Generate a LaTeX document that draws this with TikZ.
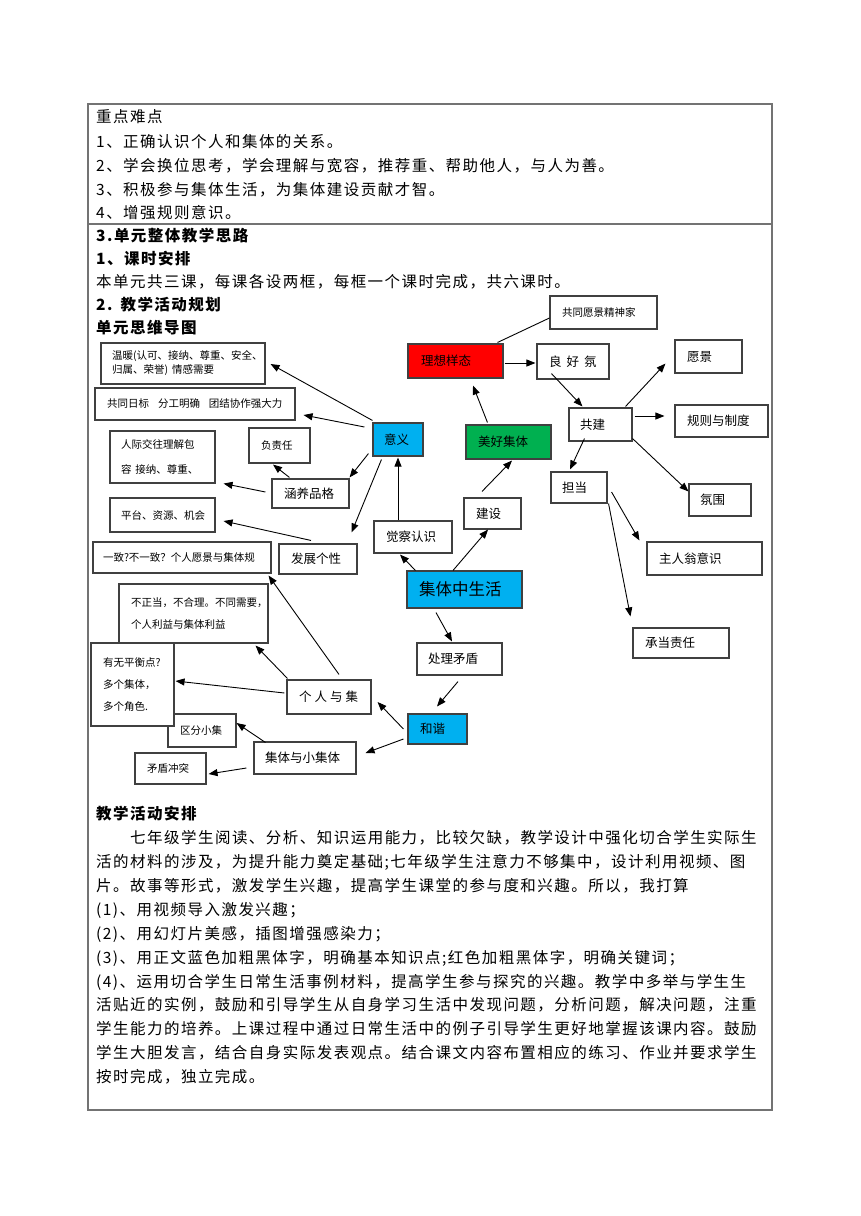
\documentclass[tikz,border=0pt]{standalone}
\usepackage{fontspec}
\setmainfont{Noto Sans CJK SC}
\newfontfamily\cjk{Noto Sans CJK SC}
\newfontfamily\cjkbody[LetterSpace=9.5]{Noto Sans CJK SC}
\usetikzlibrary{arrows.meta,calc}
\definecolor{cred}{RGB}{255,0,0}
\definecolor{cgreen}{RGB}{0,176,80}
\definecolor{cblue}{RGB}{0,176,240}
\newcommand\fsS{\fontsize{10.5}{14}\cjk}
\newcommand\fsM{\fontsize{12.5}{15}\cjk}
\newcommand\fsL{\fontsize{16.5}{20}\cjk}
\newcommand\bodyf{\fontsize{15.5}{18}\cjkbody}
\newcommand{\Bx}[8]{%
  \pgfmathsetmacro\bxw{#5-#3}\pgfmathsetmacro\bxh{#6-#4}%
  \pgfmathsetmacro\bxtw{#5-#3-2*#7}%
  \pgfmathsetmacro\bxcx{(#3+#5)/2}\pgfmathsetmacro\bxcy{(#4+#6)/2}%
  \node[bx,#1,minimum width=\bxw pt,minimum height=\bxh pt,inner xsep=#7pt,text width=\bxtw pt] (#2) at (\bxcx,\bxcy) {#8};}
\begin{document}
\begin{tikzpicture}[x=1pt,y=-1pt,
  bx/.style={draw=black!75,line width=1.1pt,fill=white,align=left,inner ysep=1pt,font=\fsM},
  sm/.style={font=\fsS},
  arr/.style={-{Triangle[length=9pt,width=7pt]},line width=0.9pt},
  ln/.style={line width=0.9pt},
  txt/.style={anchor=west,inner sep=0pt,font=\bodyf},
  hd/.style={anchor=west,inner sep=0pt,font=\bodyf\bfseries},
  tbl/.style={draw=black!55,line width=1.2pt}]
\useasboundingbox (0,0) rectangle (860,1216);
\fill[white] (0,0) rectangle (860,1216);
\draw[tbl] (88,104) rectangle (772,1110);
\draw[tbl] (88,224) -- (772,224);

% top text
\node[txt] (t1) at (96,117) {重点难点};
\node[txt] (t2) at (96,142) {1、正确认识个人和集体的关系。};
\node[txt] (t3) at (96,166) {2、学会换位思考，学会理解与宽容，推荐重、帮助他人，与人为善。};
\node[txt] (t4) at (96,190) {3、积极参与集体生活，为集体建设贡献才智。};
\node[txt] (t5) at (96,213) {4、增强规则意识。};
\node[hd] (h1) at (96,236) {3.单元整体教学思路};
\node[hd] (h2) at (96,259) {1、课时安排};
\node[txt] (t6) at (96,282) {本单元共三课，每课各设两框，每框一个课时完成，共六课时。};
\node[hd] (h3) at (96,305) {2.\kern8pt 教学活动规划};
\node[hd] (h4) at (96,328) {单元思维导图};

% mind map boxes
\Bx{sm}{gtyj}{550}{296}{657}{329}{12}{共同愿景精神家}
\Bx{fill=cred}{lxyt}{408}{344}{503}{378}{13}{理想样态}
\Bx{}{lhf}{537}{344}{609}{379}{12}{良\kern5pt 好\kern5pt 氛}
\Bx{}{yj}{675}{340}{742}{373}{12}{愿景}
\Bx{}{gj}{569}{408}{632}{441}{11}{共建}
\Bx{}{gzzd}{675}{405}{768}{437}{12}{规则与制度}
\Bx{fill=cgreen}{mhjt}{466}{425}{551}{459}{12}{美好集体}
\Bx{fill=cblue}{yy}{373}{423}{423}{456}{11}{意义}
\Bx{}{dd}{551}{472}{607}{503}{11}{担当}
\Bx{}{fw}{689}{484}{751}{516}{11}{氛围}
\Bx{}{zrwy}{647}{542}{762}{575}{12}{主人翁意识}
\Bx{}{cdzr}{633}{628}{729}{658}{12}{承当责任}
\Bx{fill=cblue,font=\fsL}{jtzsh}{407}{571}{522}{608}{12}{集体中生活}
\Bx{}{js}{464}{498}{521}{529}{12}{建设}
\Bx{}{jcrs}{374}{521}{452}{553}{12}{觉察认识}
\Bx{}{clmd}{417}{643}{502}{675}{11}{处理矛盾}
\Bx{fill=cblue}{hx}{408}{714}{467}{744}{12}{和谐}
\Bx{sm}{fzr}{249}{428}{310}{463}{12}{负责任}
\Bx{}{hypg}{272}{479}{349}{508}{12}{涵养品格}
\Bx{}{fzgx}{279}{544}{357}{574}{12}{发展个性}
\Bx{sm}{wn}{101}{343}{265}{384}{11}{温暖(认可、接纳、尊重、安全、\\归属、荣誉)\kern4pt 情感需要}
\Bx{sm}{gtrb}{95}{388}{295}{420}{12}{共同日标\kern9pt 分工明确\kern9pt 团结协作强大力}
\Bx{font=\fontsize{10.5}{25}\cjk}{rjjw}{110}{431}{215}{483}{11}{人际交往理解包\\容\kern4pt 接纳、尊重、}
\Bx{sm}{pt}{110}{498}{215}{532}{11}{平台、资源、机会}
\Bx{sm}{yz}{93}{542}{271}{573}{10}{一致?不一致？个人愿景与集体规}
\Bx{}{grjj}{287}{680}{371}{714}{12}{个\kern3pt 人\kern3pt 与\kern3pt 集}
\Bx{sm}{qfxj}{168}{714}{236}{747}{12}{区分小集}
\Bx{font=\fontsize{10.5}{22}\cjk}{bzd}{119}{584}{268}{643}{12}{不正当，不合理。不同需要，\\个人利益与集体利益}
\Bx{font=\fontsize{10.5}{22}\cjk}{ywph}{91}{643}{174}{726}{12}{有无平衡点?\\多个集体，\\多个角色.}
\Bx{}{jtyxjt}{254}{742}{356}{774}{11}{集体与小集体}
\Bx{sm}{mdct}{135}{753}{206}{784}{12}{矛盾冲突}

% connectors
\draw[ln] ($(lxyt.north east)+(-6,-1)$) -- ($(gtyj.west)+(0,5.5)$);
\draw[arr] ($(lxyt.east)+(1,2)$) -- ($(lhf.west)+(-1,1.5)$);
\draw[arr] ($(lhf.south west)+(15,-6)$) -- ($(gj.north west)+(14,-1)$);
\draw[arr] ($(gj.north east)+(-7,-1)$) -- ($(yj.south west)+(-9,-10)$);
\draw[arr] ($(gj.east)+(2,-8.5)$) -- ($(gzzd.west)+(-10,-5)$);
\draw[arr] ($(gj.south east)+(0,-3)$) -- ($(fw.north west)+(0,8)$);
\draw[arr] ($(gj.south west)+(16,-3)$) -- ($(dd.north)+(-9,-2)$);
\draw[arr] ($(mhjt.north west)+(22,-2)$) -- ($(lxyt.south)+(17.5,7)$);
\draw[arr] ($(dd.east)+(4,4.5)$) -- ($(zrwy.north west)+(-7,-1)$);
\draw[arr] ($(dd.south east)+(1,0)$) -- ($(cdzr.north west)+(-2,-11)$);
\draw[arr] ($(jtzsh.north)+(-11.5,0)$) -- ($(js.south)+(-4.5,0)$);
\draw[arr] ($(js.north)+(-10.5,-6)$) -- ($(mhjt.south)+(3.5,1)$);
\draw[arr] ($(jtzsh.north west)+(9,0)$) -- ($(jcrs.south)+(-13,1)$);
\draw[arr] ($(jtzsh.south)+(-28.5,4)$) -- ($(clmd.north)+(-7.5,-1)$);
\draw[arr] ($(clmd.south)+(-1.5,6)$) -- ($(hx.north)+(-0.5,-7)$);
\draw[arr] ($(hx.west)+(-4,0)$) -- ($(grjj.east)+(6,5)$);
\draw[arr] ($(hx.west)+(-4,10)$) -- ($(jtyxjt.east)+(9,-5)$);
\draw[arr] ($(jcrs.north)+(-15,0)$) -- ($(yy.south)+(0,1)$);
\draw[arr] ($(yy.south west)+(-4,-3)$) -- ($(hypg.north east)+(0,-1)$);
\draw[arr] ($(yy.south west)+(9,3)$) -- ($(fzgx.north east)+(-6,-11)$);
\draw[arr] ($(hypg.north west)+(18,-1)$) -- ($(fzr.south)+(-6.5,1)$);
\draw[arr] ($(hypg.west)+(-6,-1.5)$) -- ($(rjjw.south east)+(8,0)$);
\draw[arr] ($(fzgx.north)+(-7,-3)$) -- ($(pt.east)+(8,6)$);
\draw[arr] ($(yy.west)+(-8,-12.5)$) -- ($(gtrb.east)+(8,11)$);
\draw[arr] ($(yy.north west)+(0,-2)$) -- ($(wn.east)+(5,0.5)$);
\draw[arr] ($(grjj.north)+(10,-5)$) -- ($(yz.south east)+(-3,2)$);
\draw[arr] ($(grjj.north west)+(1,-1)$) -- ($(bzd.south east)+(-13,2)$);
\draw[arr] ($(grjj.west)+(-2,-4)$) -- ($(ywph.east)+(1,-3.5)$);
\draw[arr] ($(jtyxjt.north west)+(12,1)$) -- ($(qfxj.east)+(0,-7.5)$);
\draw[arr] ($(jtyxjt.west)+(-7,10)$) -- ($(mdct.east)+(2,5.5)$);

% bottom text
\node[hd] (h5) at (96,814) {教学活动安排};
\node[txt] (p1) at (130,838) {七年级学生阅读、分析、知识运用能力，比较欠缺，教学设计中强化切合学生实际生};
\node[txt] (p2) at (96,862) {活的材料的涉及，为提升能力奠定基础;七年级学生注意力不够集中，设计利用视频、图};
\node[txt] (p3) at (96,886) {片。故事等形式，激发学生兴趣，提高学生课堂的参与度和兴趣。所以，我打算};
\node[txt] (p4) at (96,910) {(1)、用视频导入激发兴趣；};
\node[txt] (p5) at (96,934) {(2)、用幻灯片美感，插图增强感染力；};
\node[txt] (p6) at (96,958) {(3)、用正文蓝色加粗黑体字，明确基本知识点;红色加粗黑体字，明确关键词；};
\node[txt] (p7) at (96,982) {(4)、运用切合学生日常生活事例材料，提高学生参与探究的兴趣。教学中多举与学生生};
\node[txt] (p8) at (96,1005) {活贴近的实例，鼓励和引导学生从自身学习生活中发现问题，分析问题，解决问题，注重};
\node[txt] (p9) at (96,1029) {学生能力的培养。上课过程中通过日常生活中的例子引导学生更好地掌握该课内容。鼓励};
\node[txt] (p10) at (96,1053) {学生大胆发言，结合自身实际发表观点。结合课文内容布置相应的练习、作业并要求学生};
\node[txt] (p11) at (96,1077) {按时完成，独立完成。};
\end{tikzpicture}
\end{document}
